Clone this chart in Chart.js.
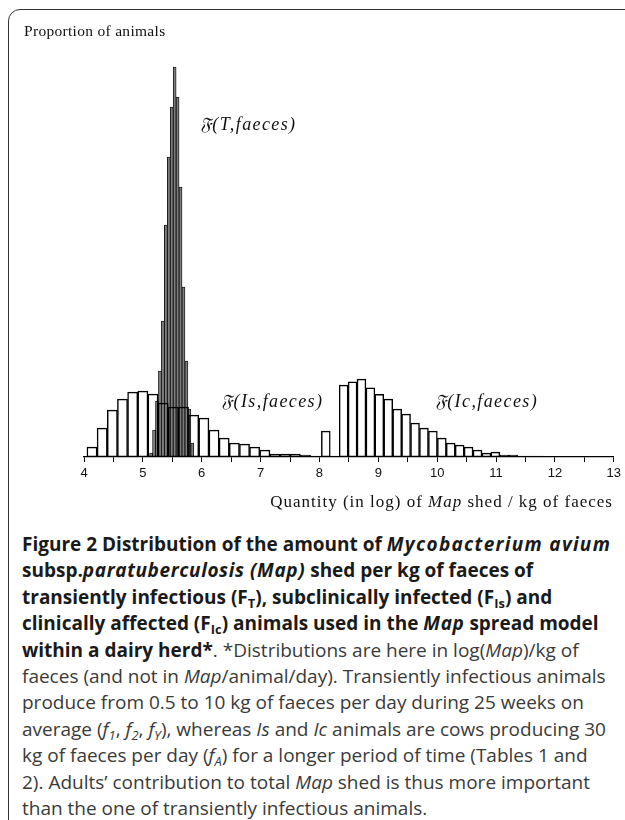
<!DOCTYPE html>
<html>
<head>
<meta charset="utf-8">
<script src="https://cdn.jsdelivr.net/npm/chart.js@4.4.0/dist/chart.umd.min.js"></script>
<style>
html, body { margin: 0; padding: 0; background: #fff; width: 625px; height: 820px; overflow: hidden; }
#frame { position: absolute; left: 8px; top: 9px; width: 700px; height: 900px; border: 1.5px solid #333; border-radius: 12px 0 0 0; }
#chartBox { position: absolute; left: 0; top: 0; width: 625px; height: 500px; }
#ytitle { position: absolute; left: 24px; top: 22px; font: 15.5px "Liberation Serif", serif; letter-spacing: 0.3px; color: #111; }
#xtitle { position: absolute; right: 12px; top: 492px; font: 17px "Liberation Serif", serif; letter-spacing: 1px; color: #111; white-space: nowrap; }
#caption { position: absolute; left: 22px; top: 531px; font: 19px "Open Sans", sans-serif; line-height: 26.4px; white-space: nowrap; color: #3a3a3a; }
#caption b { color: #1a1a1a; }
#caption b i { letter-spacing: 0.6px; }
#caption b i.wide { letter-spacing: 1.3px; }
#caption sub { font-size: 0.68em; line-height: 0; vertical-align: -0.3em; }
</style>
</head>
<body>
<div id="frame"></div>
<div id="chartBox"><canvas id="myChart" width="625" height="500"></canvas></div>
<div id="ytitle">Proportion of animals</div>
<div id="xtitle">Quantity (in log) of <i>Map</i> shed / kg of faeces</div>
<div id="caption">
<b>Figure 2 Distribution of the amount of <i class="wide">Mycobacterium avium</i></b><br>
<b>subsp.<i>paratuberculosis (Map)</i> shed per kg of faeces of</b><br>
<b>transiently infectious (F<sub>T</sub>), subclinically infected (F<sub>Is</sub>) and</b><br>
<b>clinically affected (F<sub>Ic</sub>) animals used in the <i>Map</i> spread model</b><br>
<b>within a dairy herd*</b>. *Distributions are here in log(<i>Map</i>)/kg of<br>
faeces (and not in <i>Map</i>/animal/day). Transiently infectious animals<br>
produce from 0.5 to 10 kg of faeces per day during 25 weeks on<br>
average (<i>f<sub>1</sub></i>, <i>f<sub>2</sub></i>, <i>f<sub>Y</sub></i>), whereas <i>Is</i> and <i>Ic</i> animals are cows producing 30<br>
kg of faeces per day (<i>f<sub>A</sub></i>) for a longer period of time (Tables 1 and<br>
2). Adults’ contribution to total <i>Map</i> shed is thus more important<br>
than the one of transiently infectious animals.
</div>
<script>
// x axis tick labels (log Map / kg)
const ticksX = [4, 5, 6, 7, 8, 9, 10, 11, 12, 13];

// transiently infectious animals (T) - bin centres and proportions
const binsT = [5.14, 5.19, 5.24, 5.29, 5.34, 5.39, 5.44, 5.49, 5.54, 5.59, 5.64, 5.69, 5.74, 5.79, 5.84];
const propT = [0.002, 0.0135, 0.028, 0.043, 0.068, 0.116, 0.150, 0.175, 0.195, 0.180, 0.135, 0.085, 0.048, 0.024, 0.007];

// subclinically infected (Is)
const binsIs = [4.136, 4.309, 4.482, 4.654, 4.827, 5.0, 5.172, 5.345, 5.518, 5.690, 5.863, 6.036,
                6.209, 6.381, 6.554, 6.727, 6.899, 7.072, 7.245, 7.418, 7.590, 7.763, 7.936];
const propIs = [0.005, 0.0145, 0.0235, 0.029, 0.0325, 0.033, 0.0315, 0.027, 0.025, 0.025, 0.021, 0.0195,
                0.0135, 0.0095, 0.007, 0.0065, 0.005, 0.0035, 0.0015, 0.0015, 0.0015, 0.001, 0.0005];

// clinically affected (Ic)
const binsIc = [8.108, 8.259, 8.411, 8.563, 8.714, 8.866, 9.017, 9.169, 9.321, 9.472, 9.624, 9.775, 9.927,
                10.079, 10.230, 10.382, 10.533, 10.685, 10.837, 10.988, 11.140, 11.291, 11.443, 11.595, 11.746];
const propIc = [0.013, 0.0005, 0.036, 0.0376, 0.039, 0.0346, 0.0313, 0.029, 0.024, 0.0215, 0.017, 0.0145, 0.013,
                0.0095, 0.007, 0.006, 0.005, 0.0035, 0.002, 0.0025, 0.001, 0.001, 0.0005, 0.0005, 0.0005];

// curve names, written next to each distribution
const curveNames = ['\u{1D509}(T,faeces)', '\u{1D509}(Is,faeces)', '\u{1D509}(Ic,faeces)'];
const curveAtX = [5.97, 6.33, 9.96];
const curveAtY = [0.166, 0.0275, 0.0275];

function toPoints(bins, props) {
    return bins.map(function (b, i) { return { x: b, y: props[i] }; });
}

const hiddenX = {
    type: 'linear', display: false, offset: false, grid: { offset: false },
    min: ticksX[0], max: ticksX[ticksX.length - 1]
};

const curveLabelPlugin = {
    id: 'curveLabels',
    afterDatasetsDraw(chart) {
        const ctx = chart.ctx;
        const sx = chart.scales.x, sy = chart.scales.y;
        ctx.save();
        ctx.fillStyle = '#111';
        ctx.font = 'italic 18px "Liberation Serif", serif';
        ctx.letterSpacing = '1.4px';
        ctx.textAlign = 'left';
        ctx.textBaseline = 'middle';
        curveNames.forEach(function (name, i) {
            ctx.fillText(name, sx.getPixelForValue(curveAtX[i]), sy.getPixelForValue(curveAtY[i]));
        });
        ctx.restore();
    }
};

var ctx = document.getElementById('myChart').getContext('2d');

var myChart = new Chart(ctx, {
    type: 'bar',
    data: {
        datasets: [{
            label: 'Is',
            data: toPoints(binsIs, propIs),
            xAxisID: 'xIs',
            backgroundColor: 'rgba(255,255,255,0)',
            borderColor: '#000',
            borderWidth: 0.8,
            borderSkipped: false
        }, {
            label: 'Ic',
            data: toPoints(binsIc, propIc),
            xAxisID: 'xIc',
            backgroundColor: 'rgba(255,255,255,0)',
            borderColor: '#000',
            borderWidth: 0.8,
            borderSkipped: false
        }, {
            label: 'T',
            data: toPoints(binsT, propT),
            xAxisID: 'xT',
            backgroundColor: '#7d7d7d',
            borderColor: '#000',
            borderWidth: 0.8,
            borderSkipped: false
        }]
    },
    options: {
        responsive: false,
        animation: false,
        barPercentage: 1,
        categoryPercentage: 1,
        grouped: false,
        layout: { padding: { left: 84, right: 8, top: 57, bottom: 13 } },
        plugins: { legend: { display: false }, tooltip: { enabled: false } },
        scales: {
            x: {
                type: 'linear',
                offset: false,
                min: ticksX[0],
                max: ticksX[ticksX.length - 1],
                afterBuildTicks(scale) {
                    const t = [];
                    for (let v = ticksX[0]; v <= ticksX[ticksX.length - 1]; v += 0.5) t.push({ value: v });
                    scale.ticks = t;
                },
                afterFit(scale) { scale.height = 30; },
                ticks: {
                    autoSkip: false,
                    maxRotation: 0,
                    padding: 4,
                    color: '#111',
                    font: { family: '"Liberation Sans", Arial, sans-serif', size: 13 },
                    callback: function (v) { return ticksX.indexOf(v) >= 0 ? String(v) : ''; }
                },
                grid: { offset: false, drawOnChartArea: false, drawTicks: true, tickLength: 5, color: '#000', lineWidth: 1 },
                border: { display: true, color: '#000', width: 1.3 }
            },
            xIs: hiddenX,
            xIc: hiddenX,
            xT: hiddenX,
            y: { display: false, min: 0, max: 0.2 }
        }
    },
    plugins: [curveLabelPlugin]
});
</script>
</body>
</html>
